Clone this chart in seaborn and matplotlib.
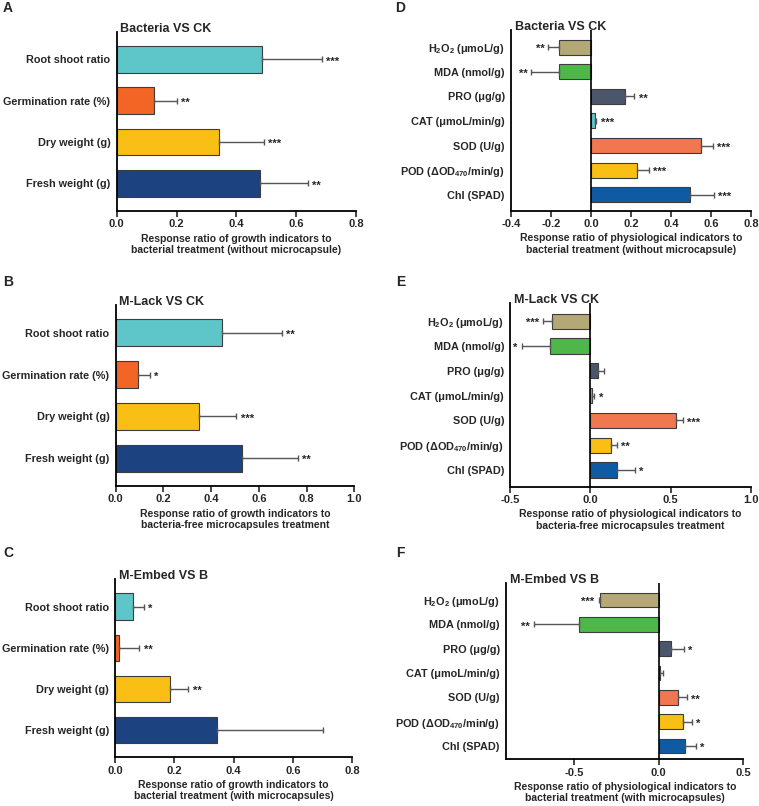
import matplotlib
matplotlib.use('Agg')
import matplotlib.pyplot as plt
import pandas as pd
import seaborn as sns

# indicator names and colours
growth_labels = ['Root shoot ratio', 'Germination rate (%)', 'Dry weight (g)', 'Fresh weight (g)']
growth_colors = ['#5EC6C8', '#F26524', '#F9BF15', '#1C4380']

physio_labels = ['H$_2$O$_2$ (μmoL/g)', 'MDA (nmol/g)', 'PRO (μg/g)', 'CAT (μmoL/min/g)',
                 'SOD (U/g)', 'POD (ΔOD$_{470}$/min/g)', 'Chl (SPAD)']
physio_colors = ['#B4A876', '#4DB848', '#4B566D', '#5EC6C8', '#F0774F', '#F9BF15', '#0E5BA3']

# A: Bacteria VS CK (growth)
a_vals = [0.487, 0.124, 0.342, 0.480]
a_errs = [0.200, 0.076, 0.150, 0.159]
a_stars = ['***', '**', '***', '**']

# B: M-Lack VS CK (growth)
b_vals = [0.444, 0.092, 0.351, 0.531]
b_errs = [0.254, 0.052, 0.155, 0.232]
b_stars = ['**', '*', '***', '**']

# C: M-Embed VS B (growth)
c_vals = [0.061, 0.0125, 0.184, 0.345]
c_errs = [0.037, 0.069, 0.063, 0.358]
c_stars = ['*', '**', '**', '']

# D: Bacteria VS CK (physiology)
d_vals = [-0.162, -0.162, 0.172, 0.020, 0.552, 0.230, 0.495]
d_errs = [0.051, 0.136, 0.045, 0.007, 0.058, 0.060, 0.120]
d_stars = ['**', '**', '**', '***', '***', '***', '***']

# E: M-Lack VS CK (physiology)
e_vals = [-0.241, -0.251, 0.050, 0.012, 0.535, 0.127, 0.168]
e_errs = [0.052, 0.178, 0.037, 0.013, 0.042, 0.037, 0.108]
e_stars = ['***', '*', '', '*', '***', '**', '*']

# F: M-Embed VS B (physiology)
f_vals = [-0.343, -0.467, 0.073, 0.006, 0.114, 0.143, 0.157]
f_errs = [0.010, 0.268, 0.078, 0.019, 0.053, 0.053, 0.063]
f_stars = ['***', '**', '*', '', '**', '*', '*']

sns.set_style('ticks')
plt.rcParams['font.family'] = ['Liberation Sans', 'DejaVu Sans']
plt.rcParams['mathtext.default'] = 'regular'
plt.rcParams['font.weight'] = 'bold'

fig = plt.figure(figsize=(7.59, 8.06), dpi=100)


def draw_panel(rect, letter, letter_xy, labels, colors, vals, errs, stars, title,
               xlabel, xlim, xticks, ylim, width, zero_line=False):
    ax = fig.add_axes(rect)
    df = pd.DataFrame({'label': labels, 'value': vals})
    sns.barplot(data=df, x='value', y='label', hue='label', order=labels,
                hue_order=labels, palette=colors, legend=False, dodge=False,
                saturation=1, width=width, edgecolor='#3c3c3c', linewidth=0.8,
                errorbar=None, ax=ax)
    for i, (v, e, s) in enumerate(zip(vals, errs, stars)):
        sign = 1 if v >= 0 else -1
        xerr = [[0], [e]] if sign > 0 else [[e], [0]]
        ax.errorbar(v, i, xerr=xerr, fmt='none', ecolor='#555555', elinewidth=1,
                    capsize=2.5, capthick=1)
        if s:
            ax.annotate(s, xy=(v + sign * e, i), xytext=(sign * 3, -1.5),
                        textcoords='offset points', ha='left' if sign > 0 else 'right',
                        va='center', fontsize=8, fontweight='bold')
    if zero_line:
        ax.axvline(0, color='black', lw=1.2, zorder=5)
    ax.set_xlim(xlim)
    ax.set_xticks(xticks)
    ax.set_xticklabels([f'{t:.1f}' for t in xticks], fontsize=8, fontweight='bold')
    ax.set_ylim(ylim)
    ax.set_ylabel('')
    ax.set_xlabel(xlabel, fontsize=7.5, fontweight='bold', labelpad=3)
    ax.tick_params(axis='y', length=0, pad=4.5, labelsize=7.8)
    ax.tick_params(axis='x', length=4, width=1.2, pad=2)
    for lab in ax.get_yticklabels():
        lab.set_fontweight('bold')
    sns.despine(ax=ax)
    for sp in ['left', 'bottom']:
        ax.spines[sp].set_linewidth(1.3)
        ax.spines[sp].set_color('black')
    ax.text(0.015, 1.0, title, transform=ax.transAxes, ha='left', va='baseline',
            fontsize=9, fontweight='bold')
    fig.text(letter_xy[0], letter_xy[1], letter, fontsize=10, fontweight='bold',
             ha='left', va='baseline')
    return ax


draw_panel([0.1538, 0.7382, 0.3153, 0.2225], 'A', (0.004, 0.985), growth_labels, growth_colors,
           a_vals, a_errs, a_stars, 'Bacteria VS CK',
           'Response ratio of growth indicators to\nbacterial treatment (without microcapsule)',
           (0, 0.8), [0.0, 0.2, 0.4, 0.6, 0.8], (3.67, -0.67), 0.65)

draw_panel([0.1524, 0.3970, 0.3144, 0.2246], 'B', (0.004, 0.645), growth_labels, growth_colors,
           b_vals, b_errs, b_stars, 'M-Lack VS CK',
           'Response ratio of growth indicators to\nbacteria-free microcapsules treatment',
           (0, 1.0), [0.0, 0.2, 0.4, 0.6, 0.8, 1.0], (3.67, -0.67), 0.65)

draw_panel([0.1519, 0.0604, 0.3119, 0.2208], 'C', (0.004, 0.309), growth_labels, growth_colors,
           c_vals, c_errs, c_stars, 'M-Embed VS B',
           'Response ratio of growth indicators to\nbacterial treatment (with microcapsules)',
           (0, 0.8), [0.0, 0.2, 0.4, 0.6, 0.8], (3.67, -0.67), 0.65)

draw_panel([0.6733, 0.7386, 0.3162, 0.2242], 'D', (0.521, 0.985), physio_labels, physio_colors,
           d_vals, d_errs, d_stars, 'Bacteria VS CK',
           'Response ratio of physiological indicators to\nbacterial treatment (without microcapsule)',
           (-0.4, 0.8), [-0.4, -0.2, 0.0, 0.2, 0.4, 0.6, 0.8], (6.65, -0.7), 0.61, True)

draw_panel([0.6723, 0.3962, 0.3167, 0.2283], 'E', (0.522, 0.645), physio_labels, physio_colors,
           e_vals, e_errs, e_stars, 'M-Lack VS CK',
           'Response ratio of physiological indicators to\nbacteria-free microcapsules treatment',
           (-0.5, 1.0), [-0.5, 0.0, 0.5, 1.0], (6.67, -0.75), 0.61, True)

draw_panel([0.6667, 0.0579, 0.3127, 0.2191], 'F', (0.522, 0.309), physio_labels, physio_colors,
           f_vals, f_errs, f_stars, 'M-Embed VS B',
           'Response ratio of physiological indicators to\nbacterial treatment (with microcapsules)',
           (-0.9, 0.5), [-0.5, 0.0, 0.5], (6.55, -0.71), 0.61, True)

fig.savefig('out.png', dpi=100)
